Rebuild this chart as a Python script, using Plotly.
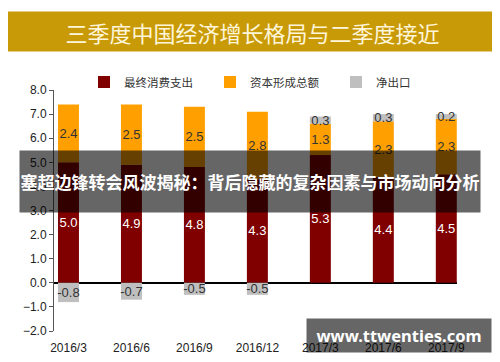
import plotly.graph_objects as go

categories = ["2016/3", "2016/6", "2016/9", "2016/12", "2017/3", "2017/6", "2017/9"]
consumption = [5.0, 4.9, 4.8, 4.3, 5.3, 4.4, 4.5]
capital = [2.4, 2.5, 2.5, 2.8, 1.3, 2.3, 2.3]
net_export = [-0.8, -0.7, -0.5, -0.5, 0.3, 0.3, 0.2]
series_names = ["最终消费支出", "资本形成总额", "净出口"]
y_ticks = [-2, -1, 0, 1, 2, 3, 4, 5, 6, 7, 8]

title_text = "三季度中国经济增长格局与二季度接近"
overlay_text = "塞超边锋转会风波揭秘：背后隐藏的复杂因素与市场动向分析"
site_text = "www.ttwenties.com"

# the page body has an 8px default margin; compensate so the figure fills the 500x362 window
OFF = 8
W, H = 500 - OFF, 362 - OFF
pw, ph = 403, 241
L, T = 54 - OFF, 90 - OFF
R, B = W - L - pw, H - T - ph

def px(x):  # page pixel -> paper x
    return (x - OFF - L) / pw

def py(y):  # page pixel -> paper y
    return (OFF + T + ph - y) / ph

colors = ["#800000", "#FFA000", "#BFBFBF"]
text_colors = ["#FFFFFF", "#333333", "#333333"]

fig = go.Figure()
for name, vals, c, tc in zip(series_names, [consumption, capital, net_export], colors, text_colors):
    fig.add_trace(go.Bar(
        x=categories, y=vals, name=name,
        marker=dict(color=c, line=dict(width=0)),
        text=[f"{v:.1f}" for v in vals],
        textposition="inside", insidetextanchor="middle",
        constraintext="none", textangle=0,
        textfont=dict(family="Liberation Sans, Arial", size=13, color=tc),
        hoverinfo="skip",
    ))

fig.update_layout(
    width=W, height=H,
    margin=dict(l=L, r=R, t=T, b=B, autoexpand=False),
    barmode="relative", bargap=0.667,
    plot_bgcolor="white", paper_bgcolor="white",
    showlegend=True,
    legend=dict(orientation="h", x=px(84), y=py(82), xanchor="left", yanchor="middle",
                font=dict(family="Noto Sans CJK SC", size=11.5, color="#333333"),
                entrywidth=81, entrywidthmode="pixels", itemwidth=30,
                traceorder="normal", bgcolor="rgba(0,0,0,0)"),
    xaxis=dict(range=[-0.23, 6.17], showline=False, showgrid=False, automargin=False,
               ticks="outside", ticklen=6, tickcolor="rgba(0,0,0,0)",
               tickfont=dict(family="Liberation Sans, Arial", size=12, color="#222222")),
    yaxis=dict(range=[-2, 8], tickvals=y_ticks, tickformat=".1f", showgrid=False, automargin=False,
               showline=True, linecolor="#555555", linewidth=1,
               ticks="outside", ticklen=4, tickcolor="#555555",
               zeroline=True, zerolinecolor="#000000", zerolinewidth=1.5,
               tickfont=dict(family="Liberation Sans, Arial", size=12, color="#222222")),
)

fig.add_annotation(text=title_text, xref="paper", yref="paper", x=px(252.5), y=py(31.5),
                   xanchor="center", yanchor="middle", showarrow=False,
                   width=489, height=39, bgcolor="#C99A08", borderpad=0,
                   font=dict(family="Noto Sans CJK SC", size=22, color="#FFF6DA"))
fig.add_annotation(text=overlay_text, xref="paper", yref="paper", x=px(250), y=py(181.5),
                   xanchor="center", yanchor="middle", showarrow=False,
                   width=460, height=61, bgcolor="rgba(0,0,0,0.6)", borderpad=0,
                   font=dict(family="Noto Sans CJK SC", size=17, color="#FFFFFF", weight="bold"))
fig.add_annotation(text=site_text, xref="paper", yref="paper", x=px(399), y=py(335.5),
                   xanchor="center", yanchor="middle", showarrow=False,
                   width=184, height=33, bgcolor="rgba(0,0,0,0.6)", borderpad=0,
                   font=dict(family="Noto Sans", size=16.5, color="#FFFFFF", weight="bold"))

fig.write_html("out.html")
